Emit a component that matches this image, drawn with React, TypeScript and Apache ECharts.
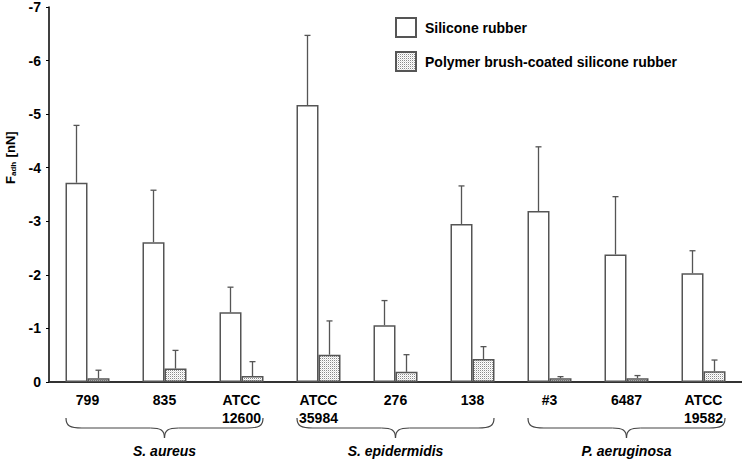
import React, { useEffect, useRef } from "react";
import * as echarts from "echarts";

const categories = ["799", "835", "ATCC\n12600", "ATCC\n35984", "276", "138", "#3", "6487", "ATCC\n19582"];
const siliconeMean = [-3.72, -2.61, -1.3, -5.17, -1.06, -2.95, -3.19, -2.38, -2.03];
const siliconeSD = [1.07, 0.97, 0.47, 1.3, 0.46, 0.71, 1.2, 1.08, 0.42];
const polymerMean = [-0.07, -0.25, -0.11, -0.51, -0.19, -0.43, -0.07, -0.07, -0.2];
const polymerSD = [0.15, 0.34, 0.27, 0.63, 0.32, 0.23, 0.03, 0.05, 0.21];
const groups = [
  { name: "S. aureus", start: 0, end: 2 },
  { name: "S. epidermidis", start: 3, end: 5 },
  { name: "P. aeruginosa", start: 6, end: 8 },
];
const seriesNames = ["Silicone rubber", "Polymer brush-coated silicone rubber"];

const FONT = "'Liberation Sans', Arial, Helvetica, sans-serif";
const BAR_W = 22;

function makePattern(): HTMLCanvasElement {
  const c = document.createElement("canvas");
  c.width = 2;
  c.height = 2;
  const ctx = c.getContext("2d")!;
  ctx.fillStyle = "#ffffff";
  ctx.fillRect(0, 0, 2, 2);
  ctx.fillStyle = "#8a8a8a";
  ctx.fillRect(0, 0, 1, 1);
  ctx.fillStyle = "#e0e0e0";
  ctx.fillRect(1, 1, 1, 1);
  return c;
}

function errSeries(name: string, mean: number[], sd: number[], offset: number) {
  return {
    type: "custom",
    name,
    z: 5,
    encode: { x: 0, y: [1, 2] },
    data: mean.map((m, i) => [i, m, m - sd[i]]),
    renderItem: (params: any, api: any) => {
      const p0 = api.coord([api.value(0), api.value(1)]);
      const p1 = api.coord([api.value(0), api.value(2)]);
      const x = p0[0] + offset;
      const style = { stroke: "#555", lineWidth: 1.3 };
      return {
        type: "group",
        children: [
          { type: "line", shape: { x1: x, y1: p0[1], x2: x, y2: p1[1] }, style },
          { type: "line", shape: { x1: x - 3, y1: p1[1], x2: x + 3, y2: p1[1] }, style },
        ],
      };
    },
  };
}

export default function App() {
  const ref = useRef<HTMLDivElement>(null);
  useEffect(() => {
    if (!ref.current) return;
    const chart = echarts.init(ref.current, undefined, { renderer: "svg" });
    const pattern = { image: makePattern(), repeat: "repeat" };
    const option: any = {
      animation: false,
      textStyle: { fontFamily: FONT },
      grid: { left: 49, right: 0, top: 5, bottom: 77, containLabel: false },
      legend: {
        data: seriesNames,
        orient: "vertical",
        left: 395,
        top: 17,
        padding: 0,
        icon: "rect",
        itemWidth: 20,
        itemHeight: 19,
        itemGap: 13,
        textStyle: { fontFamily: FONT, fontWeight: "bold", fontSize: 14, color: "#000", padding: [0, 0, 0, 4] },
      },
      xAxis: {
        type: "category",
        data: categories,
        axisLine: { lineStyle: { color: "#333", width: 2 } },
        axisTick: { show: false },
        axisLabel: {
          interval: 0,
          margin: 9,
          color: "#000",
          fontFamily: FONT,
          fontWeight: "bold",
          fontSize: 14,
          lineHeight: 18,
          verticalAlign: "top",
        },
      },
      yAxis: {
        type: "value",
        inverse: true,
        min: -7,
        max: 0,
        interval: 1,
        splitLine: { show: false },
        axisLine: { show: true, lineStyle: { color: "#000", width: 1.5 } },
        axisTick: { show: true, length: 3, lineStyle: { color: "#000" } },
        axisLabel: { color: "#000", fontFamily: FONT, fontWeight: "bold", fontSize: 14, margin: 8 },
      },
      series: [
        {
          type: "bar",
          name: seriesNames[0],
          data: siliconeMean,
          barWidth: BAR_W,
          barGap: "0%",
          itemStyle: { color: "#ffffff", borderColor: "#555", borderWidth: 1.5 },
        },
        {
          type: "bar",
          name: seriesNames[1],
          data: polymerMean,
          barWidth: BAR_W,
          barGap: "0%",
          itemStyle: { color: pattern, borderColor: "#555", borderWidth: 1.5 },
        },
        errSeries("errSilicone", siliconeMean, siliconeSD, -BAR_W / 2),
        errSeries("errPolymer", polymerMean, polymerSD, BAR_W / 2),
      ],
    };
    chart.setOption(option);

    const px = (i: number) => chart.convertToPixel({ xAxisIndex: 0 }, i) as number;
    const catW = px(1) - px(0);
    const inset = 17;
    const yTop = 418;
    const yMid = 428;
    const yApex = 438;
    const braceStyle = { stroke: "#444", lineWidth: 1.2, fill: null };
    const graphics: any[] = [];
    groups.forEach((g) => {
      const L = px(g.start) - catW / 2 + inset;
      const R = px(g.end) + catW / 2 - inset;
      const M = (px(g.start) + px(g.end)) / 2;
      graphics.push({
        type: "group",
        silent: true,
        children: [
          { type: "bezierCurve", shape: { x1: L, y1: yTop, cpx1: L, cpy1: yMid - 2, cpx2: L + 4, cpy2: yMid, x2: L + 16, y2: yMid }, style: braceStyle },
          { type: "line", shape: { x1: L + 16, y1: yMid, x2: M - 14, y2: yMid }, style: braceStyle },
          { type: "bezierCurve", shape: { x1: M - 14, y1: yMid, cpx1: M - 4, cpy1: yMid, cpx2: M, cpy2: yMid + 2, x2: M, y2: yApex }, style: braceStyle },
          { type: "bezierCurve", shape: { x1: M + 14, y1: yMid, cpx1: M + 4, cpy1: yMid, cpx2: M, cpy2: yMid + 2, x2: M, y2: yApex }, style: braceStyle },
          { type: "line", shape: { x1: M + 14, y1: yMid, x2: R - 16, y2: yMid }, style: braceStyle },
          { type: "bezierCurve", shape: { x1: R, y1: yTop, cpx1: R, cpy1: yMid - 2, cpx2: R - 4, cpy2: yMid, x2: R - 16, y2: yMid }, style: braceStyle },
        ],
      });
      graphics.push({
        type: "text",
        x: M,
        y: 451,
        style: {
          text: g.name,
          fontFamily: FONT,
          fontSize: 14,
          fontWeight: "bold",
          fontStyle: "italic",
          fill: "#000",
          align: "center",
          verticalAlign: "middle",
        },
      });
    });
    // y-axis title F_adh [nN], rotated
    graphics.push({
      type: "group",
      x: 10,
      y: 157,
      rotation: Math.PI / 2,
      children: [
        { type: "text", x: -27, y: 0, style: { text: "F", fontFamily: FONT, fontSize: 13, fontWeight: "bold", fill: "#000", align: "left", verticalAlign: "middle" } },
        { type: "text", x: -19, y: 3, style: { text: "adh", fontFamily: FONT, fontSize: 8, fontWeight: "bold", fill: "#000", align: "left", verticalAlign: "middle" } },
        { type: "text", x: -4, y: 0, style: { text: " [nN]", fontFamily: FONT, fontSize: 13, fontWeight: "bold", fill: "#000", align: "left", verticalAlign: "middle" } },
      ],
    });
    chart.setOption({ graphic: graphics });
    return () => chart.dispose();
  }, []);
  return <div ref={ref} style={{ position: "fixed", left: 0, top: 0, width: 742, height: 459, background: "#fff" }} />;
}
